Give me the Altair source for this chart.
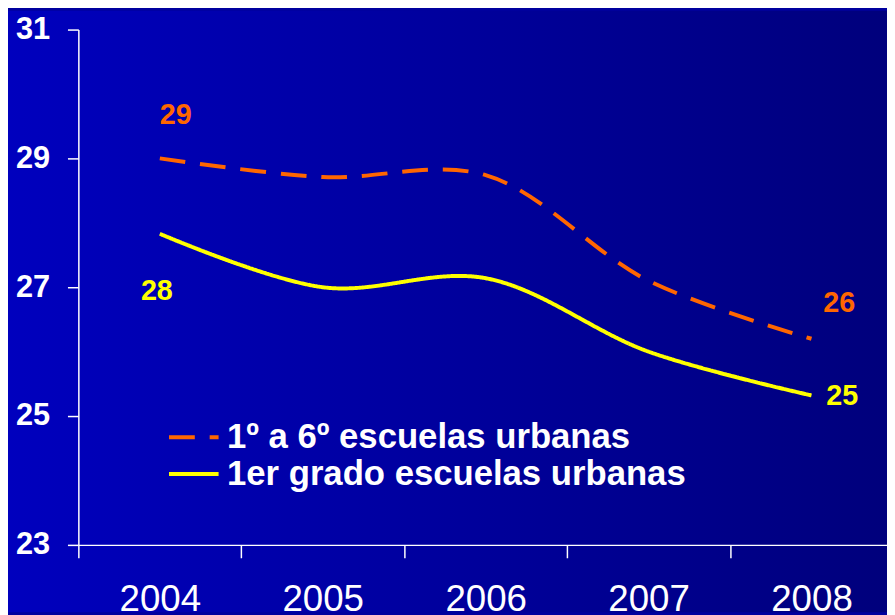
import altair as alt
import pandas as pd

years = ["2004", "2005", "2006", "2007", "2008"]
series_names = ["1º a 6º escuelas urbanas", "1er grado escuelas urbanas"]
vals_1a6 = [29.0, 28.71, 28.74, 27.1, 26.2]
vals_1er = [27.83, 27.0, 27.14, 26.0, 25.32]
y_ticks = [23, 25, 27, 29, 31]
series_colors = ["#FF6600", "#FFFF00"]

rows = []
for y, v in zip(years, vals_1a6):
    rows.append({"year": y, "serie": series_names[0], "value": v})
for y, v in zip(years, vals_1er):
    rows.append({"year": y, "serie": series_names[1], "value": v})
df = pd.DataFrame(rows)

W, H = 822, 520
PL, PT, PB, PR = 71, 19, 68, -6

xenc = alt.X("year:O", sort=years,
             scale=alt.Scale(type="band", paddingInner=0, paddingOuter=0),
             axis=alt.Axis(title=None, tickBand="extent", labelAngle=0, zindex=1,
                           labelFont="Liberation Sans Narrow, Arial Narrow, Liberation Sans",
                           labelFontSize=37, labelColor="white", labelPadding=24,
                           tickSize=13, labelBaseline="top"))
yenc = alt.Y("value:Q",
             scale=alt.Scale(domain=[23, 31], nice=False, zero=False),
             axis=alt.Axis(title=None, values=y_ticks, format="d", labelFont="Liberation Sans",
                           zindex=1, labelFontSize=31, labelFontWeight="bold",
                           labelColor="white", tickSize=11, labelPadding=18))

bg = alt.Chart(pd.DataFrame({"a": [0]})).mark_rect(
    color=alt.Gradient(gradient="linear", x1=0, x2=1, y1=0, y2=0,
                       stops=[alt.GradientStop(offset=0, color="#0000BE"),
                              alt.GradientStop(offset=1, color="#00007C")])
).encode(x=alt.value(-PL), x2=alt.value(W + PR), y=alt.value(-PT), y2=alt.value(H + PB))

base = alt.Chart(df)

lines = base.mark_line(strokeWidth=4, interpolate="catmull-rom").encode(
    x=xenc, y=yenc,
    color=alt.Color("serie:N", sort=series_names,
                    scale=alt.Scale(domain=series_names, range=series_colors),
                    legend=alt.Legend(title=None)),
    strokeDash=alt.StrokeDash("serie:N", sort=series_names,
                              scale=alt.Scale(domain=series_names, range=[[26, 15], [1, 0]]),
                              legend=alt.Legend(title=None)),
)

def label(year, serie, color, dx, dy):
    return alt.Chart(df).transform_filter(
        (alt.datum.year == year) & (alt.datum.serie == serie)
    ).mark_text(font="Liberation Sans", fontSize=29, fontWeight="bold",
                color=color, dx=dx, dy=dy).encode(
        x=alt.X("year:O", sort=years), y=alt.Y("value:Q"),
        text=alt.Text("value:Q", format=".0f"))

labels = [
    label("2004", series_names[0], series_colors[0], 16, -44),
    label("2004", series_names[1], series_colors[1], -3, 58),
    label("2008", series_names[0], series_colors[0], 28, -36),
    label("2008", series_names[1], series_colors[1], 31, 1),
]

chart = alt.layer(bg, lines, *labels).properties(
    width=W, height=H,
    autosize=alt.AutoSizeParams(type="none"),
    padding={"left": PL, "top": PT, "right": PR, "bottom": PB},
    background="#00009E",
).configure_view(stroke=None).configure_axis(
    grid=False, domainColor="white", tickColor="white", domainWidth=1.5, tickWidth=1.5,
).configure_legend(
    orient="none", legendX=99, legendY=394, padding=0,
    symbolType="M-2,0L2,0", symbolSize=625, symbolStrokeWidth=4,
    labelFont="Liberation Sans", labelFontSize=35, labelFontWeight="bold",
    labelColor="white", labelOffset=16, labelLimit=700, rowPadding=1,
)

chart.save("out.html", embed_options={"renderer": "svg", "actions": False})
